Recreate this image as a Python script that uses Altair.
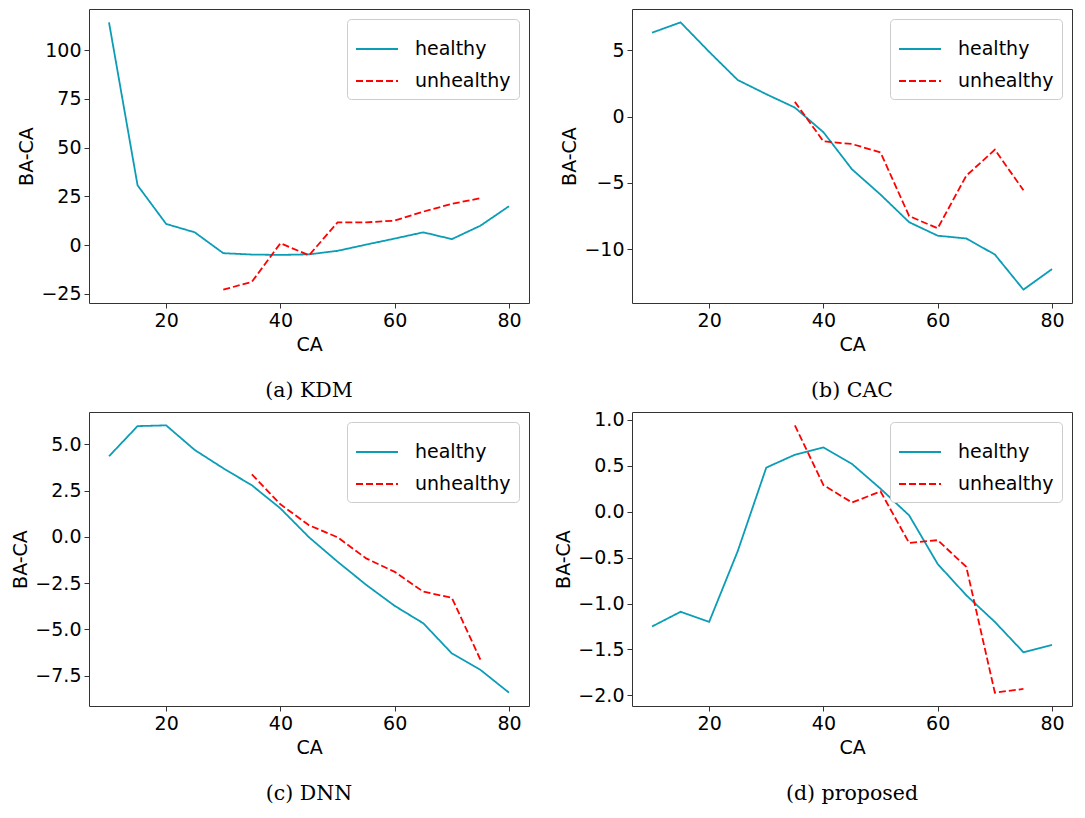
import altair as alt
import pandas as pd

# ---- data ----
ages_healthy = [10, 15, 20, 25, 30, 35, 40, 45, 50, 55, 60, 65, 70, 75, 80]
ages_unhealthy_kdm = [30, 35, 40, 45, 50, 55, 60, 65, 70, 75]
ages_unhealthy = [35, 40, 45, 50, 55, 60, 65, 70, 75]

kdm_healthy = [114.3, 30.7, 10.9, 6.6, -4.1, -4.8, -5.0, -4.7, -2.9, 0.3, 3.4, 6.6, 3.1, 10.0, 20.0]
kdm_unhealthy = [-22.8, -18.8, 1.0, -5.2, 11.7, 11.7, 12.6, 17.2, 21.2, 24.1]

cac_healthy = [6.34, 7.12, 4.9, 2.77, 1.7, 0.69, -1.17, -3.97, -5.88, -7.96, -8.98, -9.19, -10.4, -13.05, -11.5]
cac_unhealthy = [1.12, -1.86, -2.06, -2.7, -7.5, -8.42, -4.45, -2.49, -5.55]

dnn_healthy = [4.36, 5.99, 6.03, 4.7, 3.71, 2.79, 1.54, -0.02, -1.34, -2.59, -3.73, -4.67, -6.3, -7.19, -8.42]
dnn_unhealthy = [3.38, 1.76, 0.63, -0.02, -1.16, -1.89, -2.96, -3.29, -6.64]

prop_healthy = [-1.25, -1.09, -1.2, -0.43, 0.48, 0.62, 0.7, 0.52, 0.25, -0.04, -0.57, -0.91, -1.2, -1.53, -1.45]
prop_unhealthy = [0.94, 0.29, 0.1, 0.22, -0.34, -0.31, -0.6, -1.97, -1.93]

yticks_kdm = [-25, 0, 25, 50, 75, 100]
yticks_cac = [-10, -5, 0, 5]
yticks_dnn = [-7.5, -5.0, -2.5, 0.0, 2.5, 5.0]
yticks_prop = [-2.0, -1.5, -1.0, -0.5, 0.0, 0.5, 1.0]
xticks = [20, 40, 60, 80]

groups = ["healthy", "unhealthy"]
TEAL = "#0b9cb6"
RED = "#ff0000"

W, H = 440, 294
FS = 19


def legend():
    return alt.Legend(
        title=None, orient="top-right", offset=10, padding=8,
        strokeColor="#cccccc", fillColor="white", cornerRadius=4,
        symbolType="stroke", symbolSize=1764, symbolStrokeWidth=2,
        labelFontSize=FS, labelFont="DejaVu Sans", labelColor="black",
        rowPadding=0, labelOffset=16,
    )


def panel(h, u, uages, yvals, fmt, caption):
    rows = [{"CA": a, "v": v, "status": "healthy"} for a, v in zip(ages_healthy, h)]
    rows += [{"CA": a, "v": v, "status": "unhealthy"} for a, v in zip(uages, u)]
    df = pd.DataFrame(rows)
    allv = list(h) + list(u)
    lo, hi = min(allv), max(allv)
    pad = 0.05 * (hi - lo)
    return alt.Chart(df).mark_line(strokeWidth=1.8).encode(
        x=alt.X("CA:Q", title="CA",
                scale=alt.Scale(domain=[6.5, 83.5], nice=False, zero=False),
                axis=alt.Axis(values=xticks, format="d")),
        y=alt.Y("v:Q", title="BA-CA",
                scale=alt.Scale(domain=[lo - pad, hi + pad], nice=False, zero=False),
                axis=alt.Axis(values=yvals, format=fmt)),
        color=alt.Color("status:N", scale=alt.Scale(domain=groups, range=[TEAL, RED]), legend=legend()),
        strokeDash=alt.StrokeDash("status:N", scale=alt.Scale(domain=groups, range=[[1, 0], [7, 3]]), legend=legend()),
        order=alt.Order("CA:Q"),
    ).properties(
        width=W, height=H,
        title=alt.TitleParams(caption, orient="bottom", font="DejaVu Serif", fontSize=20.5,
                              fontWeight="normal", offset=27, color="black"),
    )


a = panel(kdm_healthy, kdm_unhealthy, ages_unhealthy_kdm, yticks_kdm, "d", "(a) KDM")
b = panel(cac_healthy, cac_unhealthy, ages_unhealthy, yticks_cac, "d", "(b) CAC")
c = panel(dnn_healthy, dnn_unhealthy, ages_unhealthy, yticks_dnn, ".1f", "(c) DNN")
d = panel(prop_healthy, prop_unhealthy, ages_unhealthy, yticks_prop, ".1f", "(d) proposed")

chart = alt.concat(a, b, c, d, columns=2, spacing={"row": 8, "column": 24}).resolve_scale(
    x="independent", y="independent", color="independent", strokeDash="independent"
).resolve_legend(color="independent", strokeDash="independent").properties(
    padding={"left": 3, "top": 0, "right": 0, "bottom": 0}
).configure_view(
    stroke="#333333", strokeWidth=1
).configure_axis(
    grid=False, domain=False, labelFont="DejaVu Sans", titleFont="DejaVu Sans",
    labelFontSize=FS, titleFontSize=FS, titleFontWeight="normal",
    labelColor="black", titleColor="black", tickColor="#333333", tickSize=5,
    labelPadding=3,
).configure_axisX(titlePadding=5).configure_axisY(titlePadding=4)

chart.save("out.html", embed_options={"renderer": "svg", "actions": False})
